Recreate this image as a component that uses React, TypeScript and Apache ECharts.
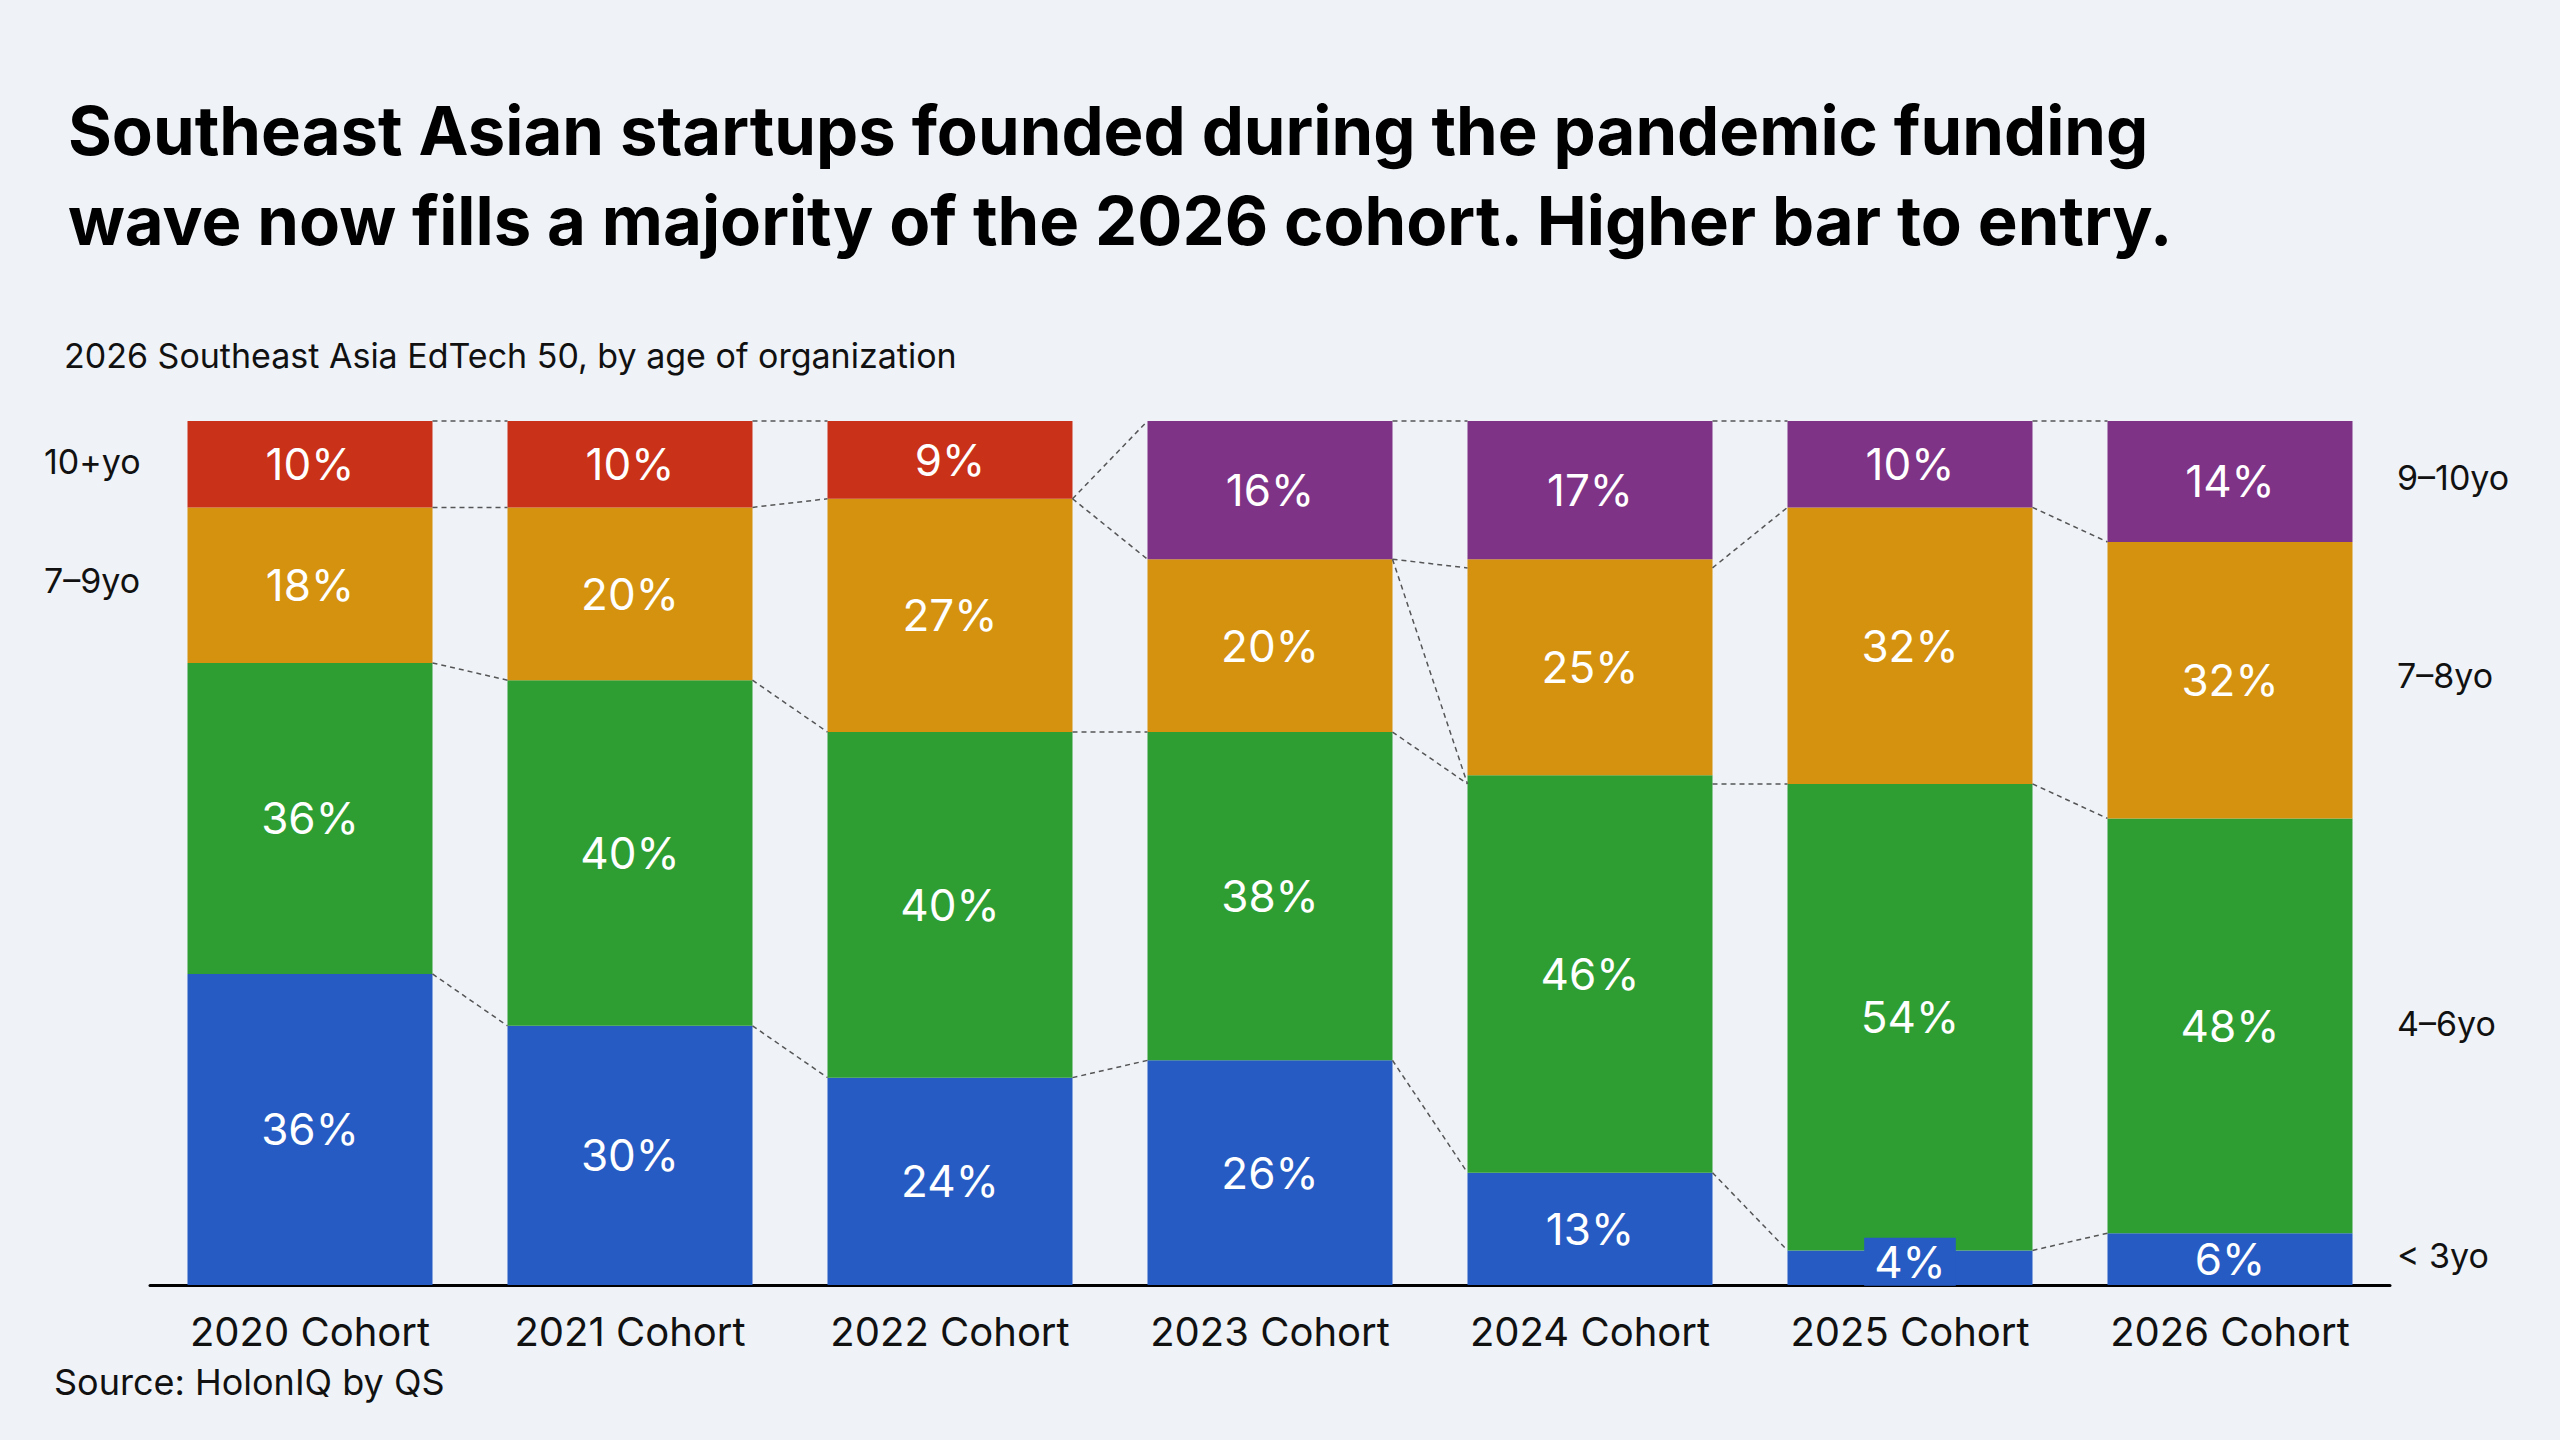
import * as echarts from 'echarts';
import { useEffect, useRef } from 'react';

const categories = ['2020 Cohort', '2021 Cohort', '2022 Cohort', '2023 Cohort', '2024 Cohort', '2025 Cohort', '2026 Cohort'];
const under3 = [36, 30, 24, 26, 13, 4, 6];
const age4to6 = [36, 40, 40, 38, 46, 54, 48];
const age7to9 = [18, 20, 27, 20, 25, 32, 32];
const top10plus = [10, 10, 9, null, null, null, null];
const top9to10 = [null, null, null, 16, 17, 10, 14];
// dashed connectors: [from category index, cumulative % on left bar, cumulative % on right bar]
const connectors: [number, number, number][] = [
  [0, 100, 100], [0, 90, 90], [0, 72, 70], [0, 36, 30],
  [1, 100, 100], [1, 90, 91], [1, 70, 64], [1, 30, 24],
  [2, 91, 100], [2, 91, 84], [2, 64, 64], [2, 24, 26],
  [3, 100, 100], [3, 84, 83], [3, 84, 58], [3, 64, 58], [3, 26, 13],
  [4, 100, 100], [4, 83, 90], [4, 58, 58], [4, 13, 4],
  [5, 100, 100], [5, 90, 86], [5, 58, 54], [5, 4, 6],
];

const FONT = 'Inter, "Noto Sans", sans-serif';
const BAR_W = 245;

export default function App() {
  const ref = useRef<HTMLDivElement>(null);

  useEffect(() => {
    document.body.style.margin = '0';
    const chart = echarts.init(ref.current!, undefined, { renderer: 'svg' });
    const label = {
      show: true,
      color: '#fff',
      fontSize: 44,
      fontFamily: FONT,
      formatter: (p: any) => (p.value == null ? '' : `${p.value}%`),
    };
    const bar = (name: string, data: (number | null)[], color: string) => ({
      type: 'bar',
      name,
      stack: 'a',
      barWidth: BAR_W,
      data,
      itemStyle: { color },
      label,
    });
    const sideText = (text: string, x: number, y: number) => ({
      type: 'text',
      left: x,
      top: y - 20,
      style: { text, fontSize: 34, fontFamily: FONT, fill: '#111' },
    });
    chart.setOption({
      animation: false,
      backgroundColor: '#EFF3F8',
      grid: { left: 150, width: 2240, top: 421, bottom: 1440 - 1285 },
      xAxis: {
        type: 'category',
        data: categories,
        axisTick: { show: false },
        axisLine: { lineStyle: { color: '#000', width: 3 } },
        axisLabel: { fontSize: 40, color: '#111', fontFamily: FONT, margin: 26 },
      },
      yAxis: { type: 'value', min: 0, max: 100, show: false },
      graphic: [
        {
          type: 'text', left: 68, top: 85,
          style: {
            text: 'Southeast Asian startups founded during the pandemic funding\nwave now fills a majority of the 2026 cohort. Higher bar to entry.',
            fontSize: 67, fontWeight: 'bold', lineHeight: 90, fontFamily: FONT, fill: '#000',
          },
        },
        { type: 'text', left: 64, top: 338, style: { text: '2026 Southeast Asia EdTech 50, by age of organization', fontSize: 34, fontFamily: FONT, fill: '#111' } },
        { type: 'text', left: 54, top: 1364, style: { text: 'Source: HolonIQ by QS', fontSize: 36, fontFamily: FONT, fill: '#111' } },
        sideText('10+yo', 44, 464),
        sideText('7–9yo', 44, 583),
        sideText('9–10yo', 2397, 480),
        sideText('7–8yo', 2397, 678),
        sideText('4–6yo', 2397, 1026),
        sideText('< 3yo', 2397, 1258),
      ],
      series: [
        {
          ...bar('< 3yo', under3, '#265BC4'),
          data: under3.map((v, i) =>
            i === 5
              ? { value: v, label: { backgroundColor: '#265BC4', padding: [4, 10, 0, 10], offset: [0, -6] } }
              : v,
          ),
        },
        bar('4–6yo', age4to6, '#2E9E32'),
        bar('7–9yo', age7to9, '#D4920F'),
        bar('10+yo', top10plus, '#C93218'),
        bar('9–10yo', top9to10, '#7F3386'),
        {
          type: 'custom',
          data: connectors,
          z: 10,
          renderItem: (_params: any, api: any) => {
            const i = api.value(0);
            const a = api.coord([i, api.value(1)]);
            const b = api.coord([i + 1, api.value(2)]);
            return {
              type: 'line',
              shape: { x1: a[0] + BAR_W / 2, y1: a[1], x2: b[0] - BAR_W / 2, y2: b[1] },
              style: { stroke: '#555', lineWidth: 1.5, lineDash: [5, 4] },
            };
          },
        },
      ],
    });
    return () => chart.dispose();
  }, []);

  return <div ref={ref} style={{ width: 2560, height: 1440 }} />;
}
